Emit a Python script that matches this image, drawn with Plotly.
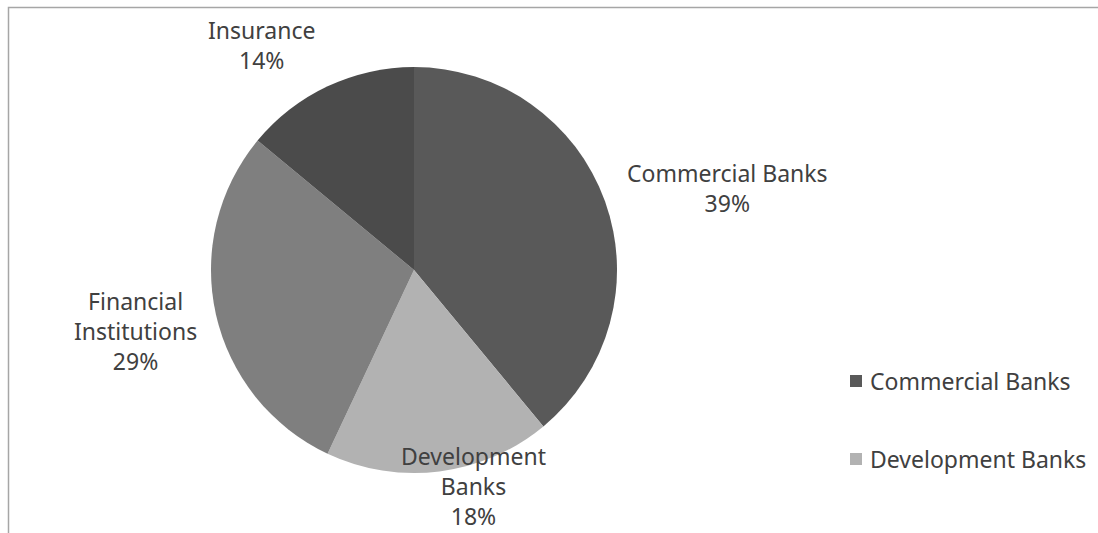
import plotly.graph_objects as go

# Share of funding by institution type
categories = ["Commercial Banks", "Development Banks", "Financial Institutions", "Insurance"]
shares = [39, 18, 29, 14]
slice_colors = ["#595959", "#b2b2b2", "#7f7f7f", "#4b4b4b"]

# Multi-line label text for each slice
label_lines = {
    "Commercial Banks": ["Commercial Banks"],
    "Development Banks": ["Development", "Banks"],
    "Financial Institutions": ["Financial", "Institutions"],
    "Insurance": ["Insurance"],
}
# Label centre positions (pixels from top-left)
label_pos = {
    "Commercial Banks": (727, 188),
    "Development Banks": (473, 486),
    "Financial Institutions": (135, 331),
    "Insurance": (261, 45),
}
legend_items = ["Commercial Banks", "Development Banks"]

W, H = 1098, 533
cx, cy, r = 414, 270, 203
text_color = "#404040"
font_family = "Noto Sans"
font_size = 23

fig = go.Figure(
    go.Pie(
        labels=categories,
        values=shares,
        sort=False,
        direction="clockwise",
        rotation=0,
        marker=dict(colors=slice_colors, line=dict(width=0)),
        textinfo="none",
        hoverinfo="label+percent",
        showlegend=False,
        domain=dict(x=[(cx - r) / W, (cx + r) / W], y=[(H - cy - r) / H, (H - cy + r) / H]),
    )
)

total = sum(shares)
annotations = []
for cat, val in zip(categories, shares):
    pct = round(100 * val / total)
    text = "<br>".join(label_lines[cat] + [f"{pct}%"])
    px, py = label_pos[cat]
    annotations.append(dict(
        x=px / W, y=(H - py) / H, xref="paper", yref="paper", xanchor="center", yanchor="middle",
        text=text, showarrow=False, align="center",
        font=dict(family=font_family, size=font_size, color=text_color),
    ))

shapes = [
    # chart frame
    dict(type="rect", xref="paper", yref="paper", x0=8.5 / W, y0=-0.05, x1=1.05, y1=(H - 7.5) / H,
         line=dict(color="#a6a6a6", width=1.5), fillcolor="rgba(0,0,0,0)"),
]

legend_y = [381, 459]
for cat, ly in zip(legend_items, legend_y):
    color = slice_colors[categories.index(cat)]
    shapes.append(dict(type="rect", xref="paper", yref="paper",
                       x0=850 / W, x1=862 / W, y0=(H - ly - 6) / H, y1=(H - ly + 6) / H,
                       fillcolor=color, line=dict(width=0)))
    annotations.append(dict(
        x=868 / W, y=(H - ly) / H, xref="paper", yref="paper", xanchor="left", yanchor="middle",
        text=cat, showarrow=False,
        font=dict(family=font_family, size=font_size, color=text_color),
    ))

fig.update_layout(
    width=W, height=H,
    margin=dict(l=0, r=0, t=0, b=0),
    paper_bgcolor="white", plot_bgcolor="white",
    annotations=annotations, shapes=shapes,
    showlegend=False,
)

fig.write_html("out.html")
